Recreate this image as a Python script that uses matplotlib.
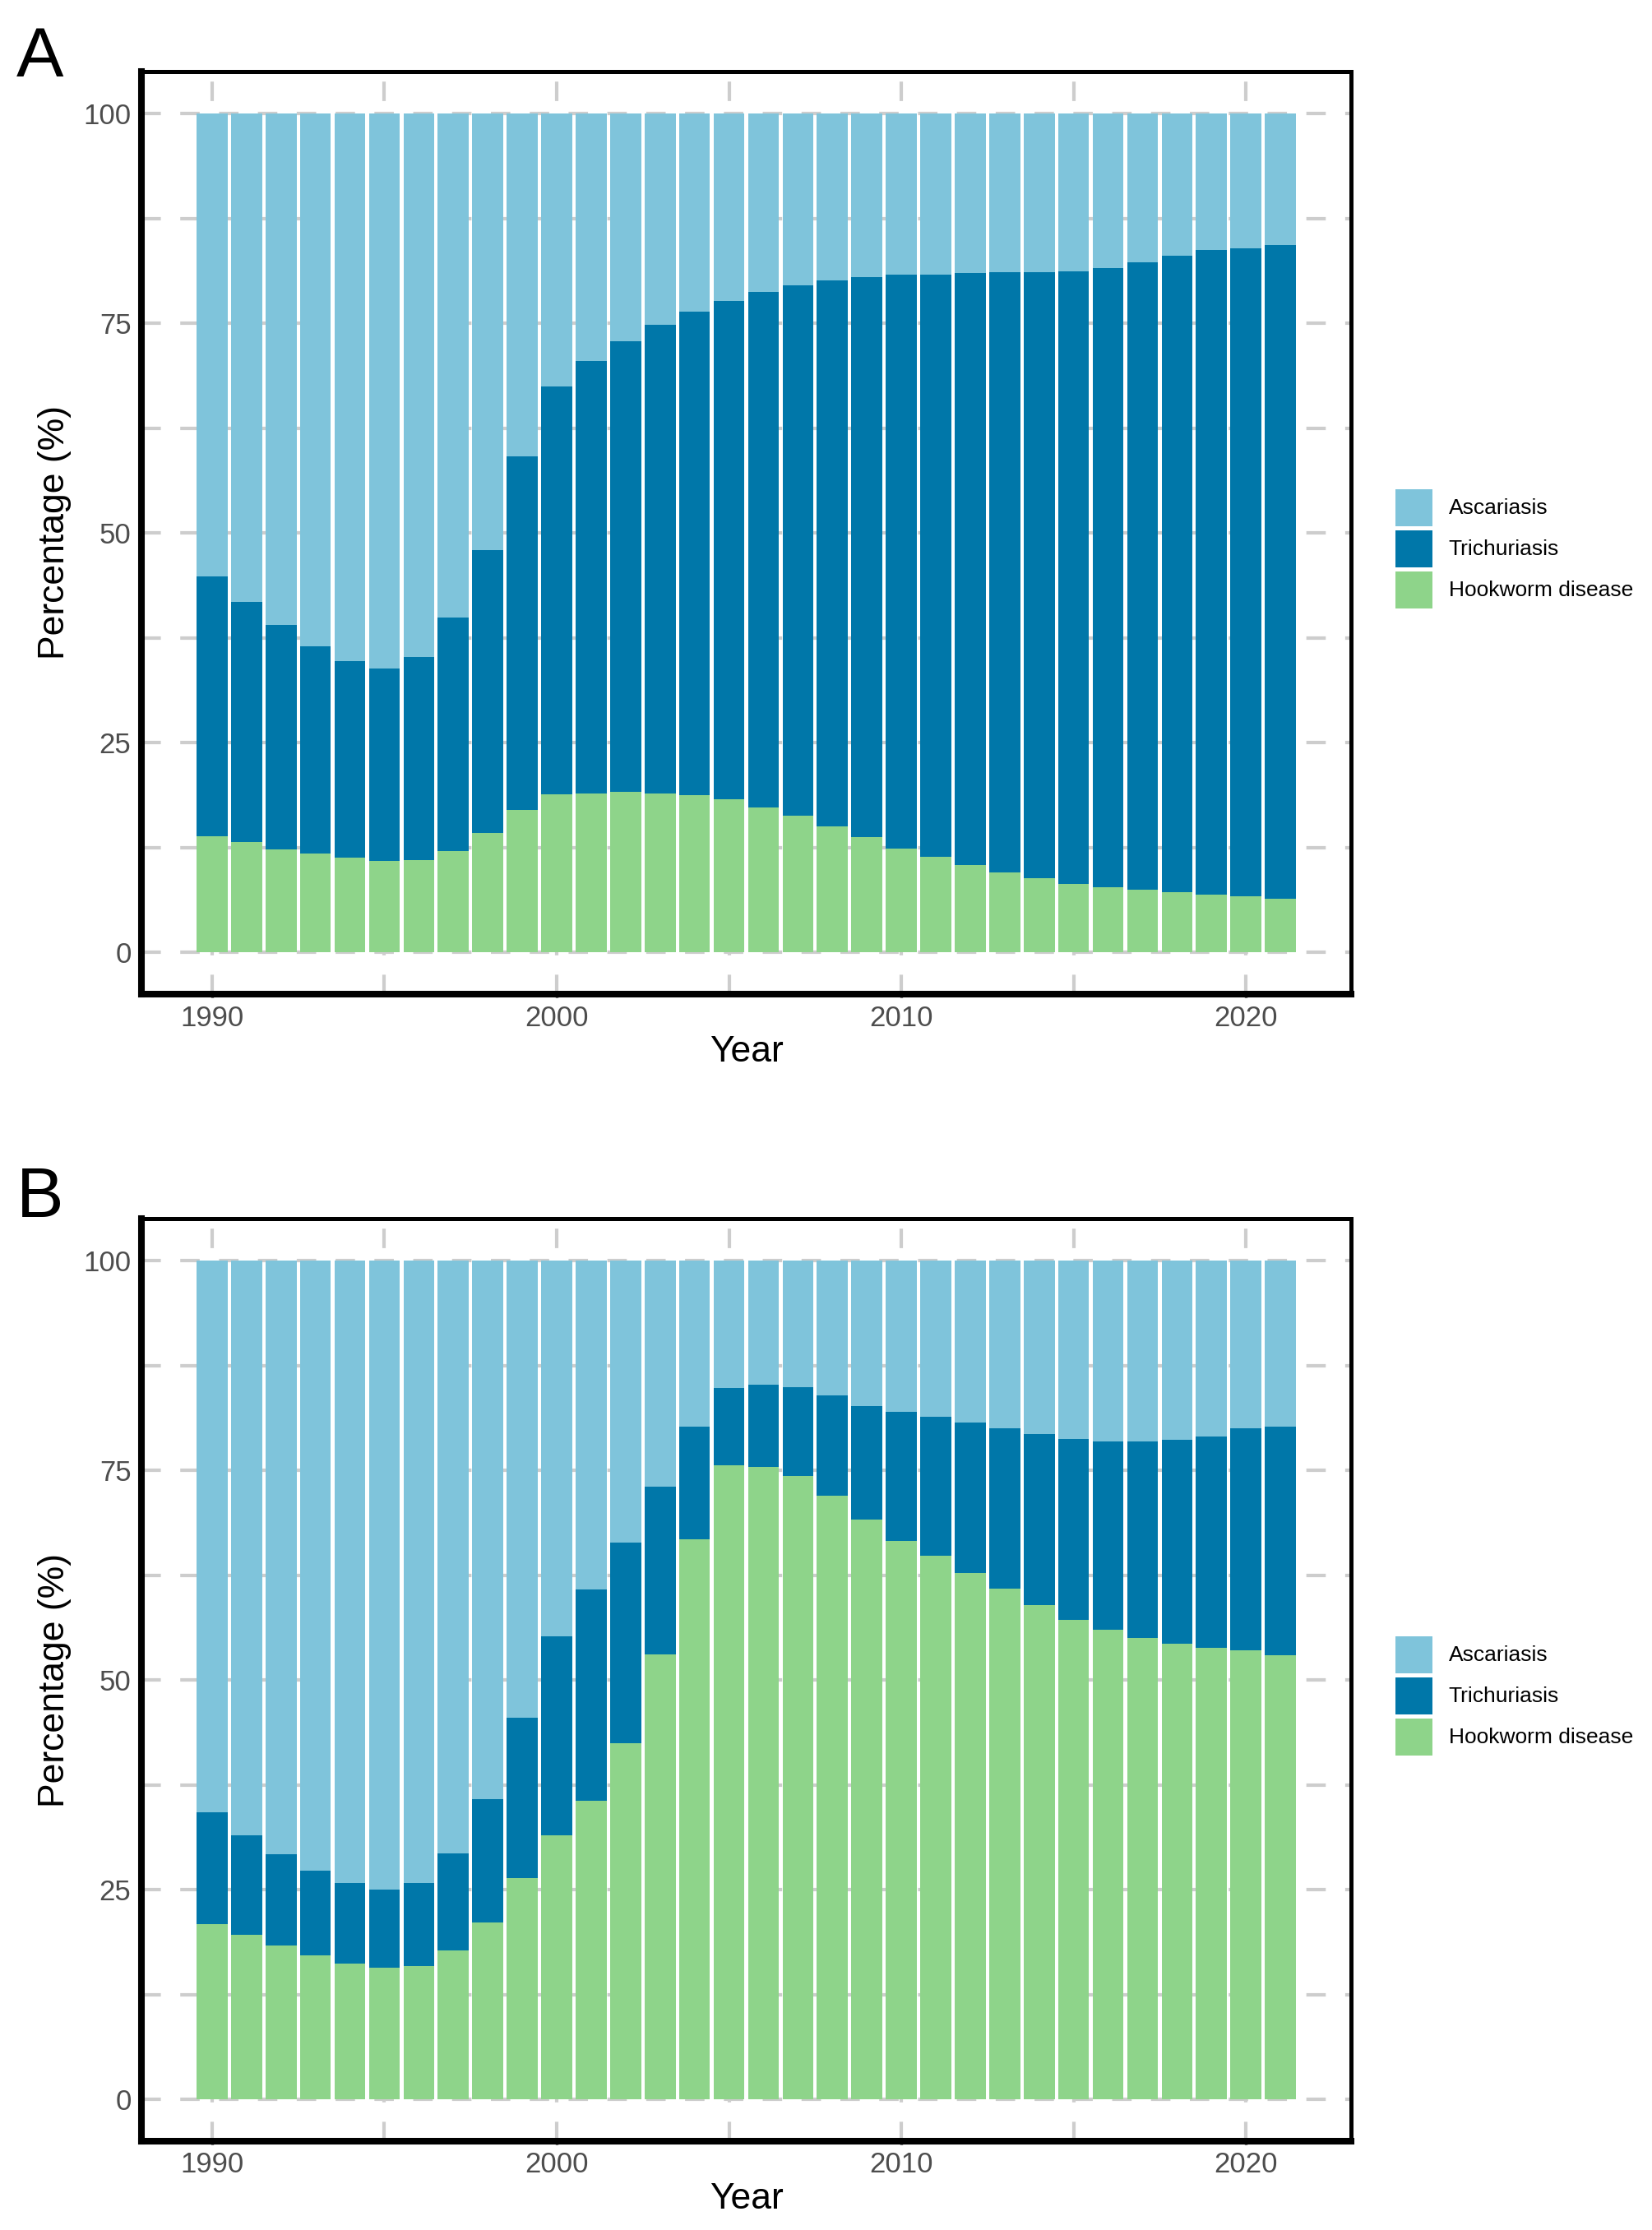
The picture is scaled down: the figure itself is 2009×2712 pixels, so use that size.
import matplotlib
matplotlib.use("Agg")
import matplotlib.pyplot as plt
from matplotlib.patches import Patch, Rectangle
from matplotlib.legend_handler import HandlerPatch
from matplotlib.ticker import FixedLocator
import numpy as np

plt.rcParams['font.family'] = ['Liberation Sans', 'DejaVu Sans']
plt.rcParams['lines.scale_dashes'] = False

years = list(range(1990, 2022))
diseases = ['Ascariasis', 'Trichuriasis', 'Hookworm disease']
colors = {'Ascariasis': '#7FC4DB', 'Trichuriasis': '#0077A9', 'Hookworm disease': '#8ED48A'}

# panel A shares (%)
a_hook = [13.8, 13.1, 12.3, 11.8, 11.3, 10.9, 11.0, 12.1, 14.2, 17.0, 18.8, 18.9, 19.1, 18.9, 18.7, 18.2,
          17.3, 16.3, 15.0, 13.7, 12.4, 11.4, 10.4, 9.5, 8.8, 8.1, 7.7, 7.5, 7.2, 6.9, 6.7, 6.4]
a_trich = [31.0, 28.7, 26.7, 24.7, 23.4, 22.9, 24.2, 27.8, 33.7, 42.1, 48.7, 51.6, 53.7, 55.9, 57.7, 59.4,
           61.4, 63.2, 65.1, 66.8, 68.4, 69.4, 70.6, 71.6, 72.3, 73.1, 73.9, 74.8, 75.8, 76.8, 77.2, 77.9]
a_asc = [55.2, 58.2, 61.0, 63.5, 65.3, 66.2, 64.8, 60.1, 52.1, 40.9, 32.5, 29.5, 27.2, 25.2, 23.6, 22.4,
         21.3, 20.5, 19.9, 19.5, 19.2, 19.2, 19.0, 18.9, 18.9, 18.8, 18.4, 17.7, 17.0, 16.3, 16.1, 15.7]

# panel B shares (%)
b_hook = [20.9, 19.6, 18.3, 17.2, 16.2, 15.7, 15.9, 17.7, 21.1, 26.4, 31.5, 35.6, 42.5, 53.0, 66.8, 75.6,
          75.4, 74.3, 72.0, 69.1, 66.6, 64.8, 62.7, 60.9, 58.9, 57.2, 56.0, 55.0, 54.3, 53.8, 53.5, 52.9]
b_trich = [13.3, 11.9, 10.9, 10.1, 9.6, 9.3, 9.9, 11.6, 14.7, 19.1, 23.7, 25.2, 23.9, 20.0, 13.4, 9.2,
           9.8, 10.6, 11.9, 13.5, 15.4, 16.6, 18.0, 19.1, 20.4, 21.5, 22.4, 23.4, 24.3, 25.2, 26.5, 27.3]
b_asc = [65.8, 68.5, 70.8, 72.7, 74.2, 75.0, 74.2, 70.7, 64.2, 54.5, 44.8, 39.2, 33.6, 27.0, 19.8, 15.2,
         14.8, 15.1, 16.1, 17.4, 18.0, 18.6, 19.3, 20.0, 20.7, 21.3, 21.6, 21.6, 21.4, 21.0, 20.0, 19.8]

W, H = 2009, 2712
fig = plt.figure(figsize=(W / 100, H / 100), dpi=100)


def square_key(legend, orig_handle, xdescent, ydescent, width, height, fontsize):
    # square key centred in its row, small gap to the next one
    side = 45 * 72 / 100
    return Rectangle((-xdescent, -ydescent + (height - side) / 2), width, side)


def panel(rect, hook, trich, asc, letter, letter_y, legend_top):
    ax = fig.add_axes(rect)
    yrs = np.array(years)
    ax.bar(yrs, hook, width=0.9, color=colors['Hookworm disease'], linewidth=0)
    ax.bar(yrs, trich, width=0.9, bottom=hook, color=colors['Trichuriasis'], linewidth=0)
    ax.bar(yrs, asc, width=0.9, bottom=np.array(hook) + np.array(trich),
           color=colors['Ascariasis'], linewidth=0)

    ax.set_xlim(1987.95, 2023.05)
    ax.set_ylim(-5, 105)
    ax.xaxis.set_major_locator(FixedLocator([1990, 2000, 2010, 2020]))
    ax.xaxis.set_minor_locator(FixedLocator([1995, 2005, 2015]))
    ax.yaxis.set_major_locator(FixedLocator([0, 25, 50, 75, 100]))
    ax.yaxis.set_minor_locator(FixedLocator([12.5, 37.5, 62.5, 87.5]))
    ax.set_axisbelow(True)
    ax.grid(which='both', color='#CDCDCD', linewidth=3.0, linestyle=(0, (17, 17)))

    ax.tick_params(which='major', length=3, width=2.4, color='black',
                   labelcolor='#4D4D4D', labelsize=25, pad=6)
    ax.tick_params(which='minor', length=0)
    for s in ['left', 'bottom']:
        ax.spines[s].set_linewidth(5.8)
    for s in ['top', 'right']:
        ax.spines[s].set_linewidth(3.6)
    for s in ax.spines.values():
        s.set_zorder(5)

    ax.set_xlabel('Year', fontsize=32, labelpad=3)
    ax.set_ylabel('Percentage (%)', fontsize=32, labelpad=10)

    fig.text(20 / W, 1 - letter_y / H, letter, fontsize=62, va='baseline', ha='left')

    handles = [Patch(facecolor=colors[d], edgecolor='none') for d in diseases]
    fig.legend(handles, diseases, loc='upper left',
               bbox_to_anchor=(1697 / W, 1 - legend_top / H),
               frameon=False, fontsize=19, borderpad=0, borderaxespad=0,
               handlelength=1.7, handleheight=2.54, handletextpad=0.75,
               labelspacing=0.0,
               handler_map={Patch: HandlerPatch(patch_func=square_key)})
    return ax


ax_h = 1122 / H
panel([172 / W, 1 - 1209 / H, 1471 / W, ax_h], a_hook, a_trich, a_asc, 'A', 93, 592)
panel([172 / W, 1 - 2604 / H, 1471 / W, ax_h], b_hook, b_trich, b_asc, 'B', 1480, 1987)

fig.savefig('out.png', dpi=100, facecolor='white')
